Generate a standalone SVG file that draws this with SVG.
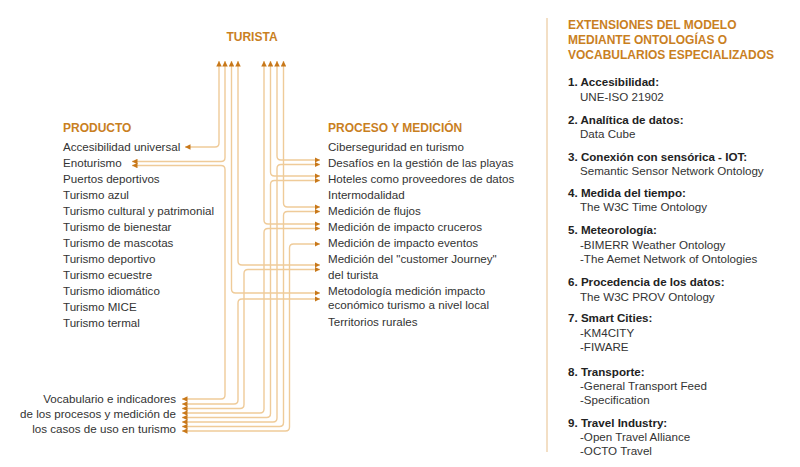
<svg xmlns="http://www.w3.org/2000/svg" width="800" height="467" viewBox="0 0 800 467">
<defs>
<style>
text{font-family:"Liberation Sans",Arial,sans-serif;font-size:11.6px;fill:#333}
.h{font-weight:bold;fill:#c9801f;font-size:12px}
.b{font-weight:bold;fill:#222;font-size:11.6px}
.c path{fill:none;stroke:#efcb99;stroke-width:1.4;marker-start:url(#a);marker-end:url(#a)}
</style>
<marker id="a" viewBox="0 0 6 6" refX="6" refY="3" markerWidth="5.5" markerHeight="5.5" markerUnits="userSpaceOnUse" orient="auto-start-reverse"><path d="M0,0 L6,3 L0,6 z" fill="#c8781a"/></marker>
</defs>
<rect width="800" height="467" fill="#fff"/>
<g id="turista"><text class="h" x="252" y="41" text-anchor="middle">TURISTA</text></g>
<g id="producto">
<text class="h" x="63" y="132">PRODUCTO</text>
<text x="63" y="151">Accesibilidad universal</text>
<text x="63" y="167">Enoturismo</text>
<text x="63" y="183">Puertos deportivos</text>
<text x="63" y="199">Turismo azul</text>
<text x="63" y="215">Turismo cultural y patrimonial</text>
<text x="63" y="231">Turismo de bienestar</text>
<text x="63" y="247">Turismo de mascotas</text>
<text x="63" y="263">Turismo deportivo</text>
<text x="63" y="279">Turismo ecuestre</text>
<text x="63" y="295">Turismo idiomático</text>
<text x="63" y="311">Turismo MICE</text>
<text x="63" y="327">Turismo termal</text>
</g>
<g id="proceso">
<text class="h" x="328" y="132">PROCESO Y MEDICIÓN</text>
<text x="328" y="151">Ciberseguridad en turismo</text>
<text x="328" y="167">Desafíos en la gestión de las playas</text>
<text x="328" y="183">Hoteles como proveedores de datos</text>
<text x="328" y="199">Intermodalidad</text>
<text x="328" y="215">Medición de flujos</text>
<text x="328" y="231">Medición de impacto cruceros</text>
<text x="328" y="247">Medición de impacto eventos</text>
<text x="328" y="263">Medición del "customer Journey"</text>
<text x="328" y="279">del turista</text>
<text x="328" y="295">Metodología medición impacto</text>
<text x="328" y="309">económico turismo a nivel local</text>
<text x="328" y="326">Territorios rurales</text>
</g>
<g id="vocabulario">
<text x="176" y="403" text-anchor="end">Vocabulario e indicadores</text>
<text x="176" y="418" text-anchor="end">de los procesos y medición de</text>
<text x="176" y="433" text-anchor="end">los casos de uso en turismo</text>
</g>
<g id="connectors" class="c">
<path d="M219,61 V143 Q219,147 215,147 H185"/>
<path d="M225,61 V157.5 Q225,161.5 221,161.5 H132"/>
<path d="M231.5,61 V289 Q231.5,293 235.5,293 H320"/>
<path d="M238,61 V261 Q238,265 242,265 H320"/>
<path d="M264,61 V220 Q264,224 268,224 H320"/>
<path d="M270.5,61 V172 Q270.5,176 274.5,176 H320"/>
<path d="M277,61 V156 Q277,160 281,160 H320"/>
<path d="M283.5,61 V203 Q283.5,207 287.5,207 H320"/>
<path d="M132,165.5 H221 Q225,165.5 225,169.5 V395 Q225,399 221,399 H182"/>
<path d="M320,299 H242 Q238,299 238,303 V400 Q238,404 234,404 H182"/>
<path d="M320,269.5 H248 Q244,269.5 244,273.5 V404.5 Q244,408.5 240,408.5 H182"/>
<path d="M320,228.5 H268 Q264,228.5 264,232.5 V409 Q264,413 260,413 H182"/>
<path d="M320,180.5 H274.5 Q270.5,180.5 270.5,184.5 V413.5 Q270.5,417.5 266.5,417.5 H182"/>
<path d="M320,164.5 H281 Q277,164.5 277,168.5 V418 Q277,422 273,422 H182"/>
<path d="M320,211.5 H287.5 Q283.5,211.5 283.5,215.5 V422.5 Q283.5,426.5 279.5,426.5 H182"/>
<path d="M320,244 H293.5 Q289.5,244 289.5,248 V427 Q289.5,431 285.5,431 H182"/>
</g>
<line x1="547" y1="18" x2="547" y2="452" stroke="#f3dfc5" stroke-width="2"/>
<g id="extensiones">
<text class="h" x="568" y="29">EXTENSIONES DEL MODELO</text>
<text class="h" x="568" y="44">MEDIANTE ONTOLOGÍAS O</text>
<text class="h" x="568" y="59">VOCABULARIOS ESPECIALIZADOS</text>
<text class="b" x="568" y="86">1. Accesibilidad:</text>
<text x="580" y="101">UNE-ISO 21902</text>
<text class="b" x="568" y="124">2. Analítica de datos:</text>
<text x="580" y="138">Data Cube</text>
<text class="b" x="568" y="161">3. Conexión con sensórica - IOT:</text>
<text x="580" y="175">Semantic Sensor Network Ontology</text>
<text class="b" x="568" y="197">4. Medida del tiempo:</text>
<text x="580" y="211">The W3C Time Ontology</text>
<text class="b" x="568" y="234">5. Meteorología:</text>
<text x="580" y="249">-BIMERR Weather Ontology</text>
<text x="580" y="263">-The Aemet Network of Ontologies</text>
<text class="b" x="568" y="286">6. Procedencia de los datos:</text>
<text x="580" y="301">The W3C PROV Ontology</text>
<text class="b" x="568" y="322">7. Smart Cities:</text>
<text x="580" y="337">-KM4CITY</text>
<text x="580" y="351">-FIWARE</text>
<text class="b" x="568" y="376">8. Transporte:</text>
<text x="580" y="390">-General Transport Feed</text>
<text x="580" y="404">-Specification</text>
<text class="b" x="568" y="427">9. Travel Industry:</text>
<text x="580" y="441">-Open Travel Alliance</text>
<text x="580" y="455">-OCTO Travel</text>
</g>
</svg>
